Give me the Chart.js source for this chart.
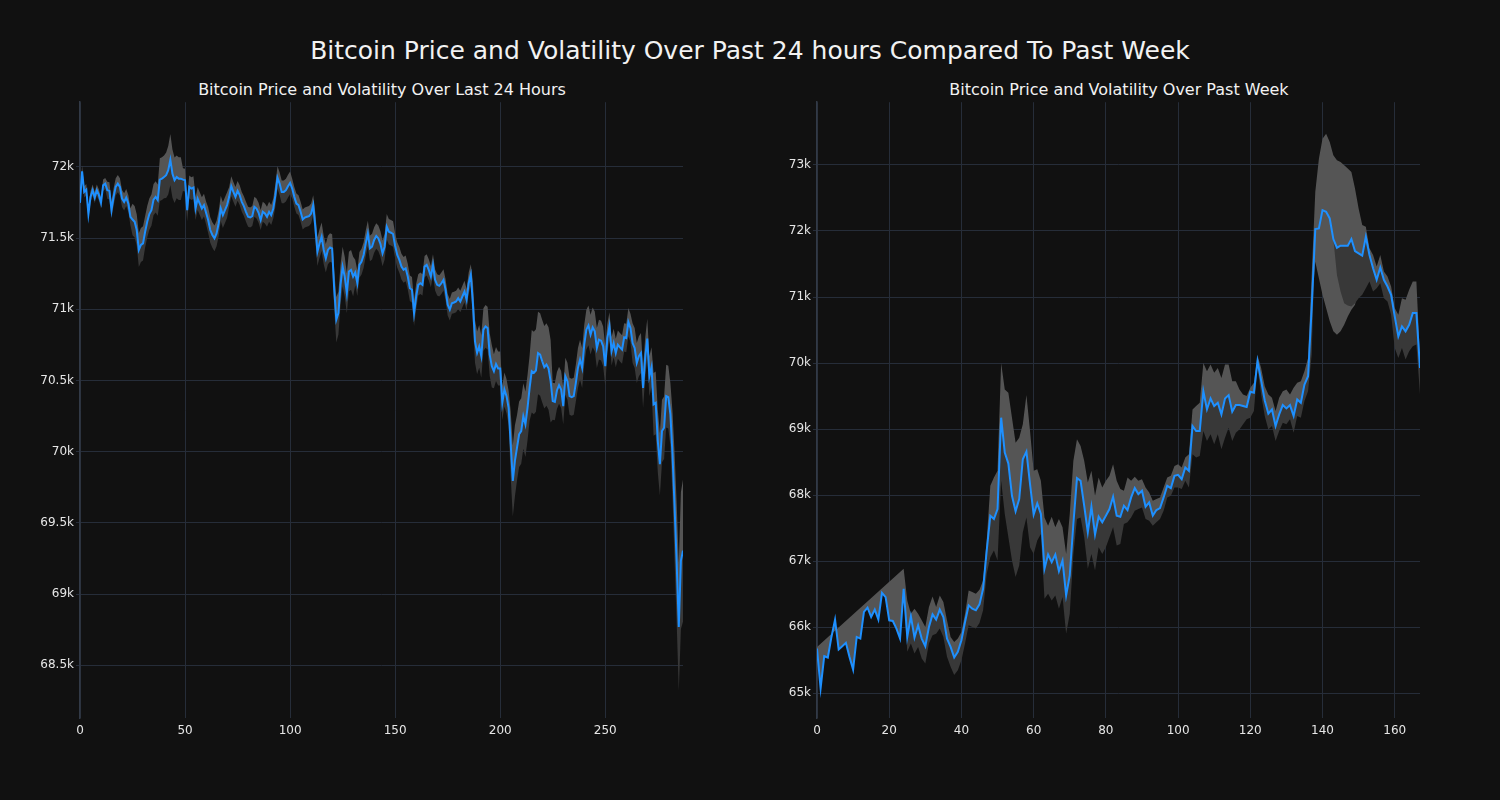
<!DOCTYPE html>
<html>
<head>
<meta charset="utf-8">
<script src="https://cdn.jsdelivr.net/npm/chart.js@4.4.1/dist/chart.umd.min.js"></script>
<style>
  html, body { margin:0; padding:0; background:#111111; }
  body { width:1500px; height:800px; position:relative; overflow:hidden; font-family:'DejaVu Sans', sans-serif; }
  .t { position:absolute; color:#f2f2f2; white-space:nowrap; transform:translate(-50%,-50%); }
  .box { position:absolute; }
</style>
</head>
<body>
<div class="t" style="left:750px;top:50px;font-size:25px;">Bitcoin Price and Volatility Over Past 24 hours Compared To Past Week</div>
<div class="t" style="left:382px;top:89px;font-size:16px;">Bitcoin Price and Volatility Over Last 24 Hours</div>
<div class="t" style="left:1119px;top:89px;font-size:16px;">Bitcoin Price and Volatility Over Past Week</div>
<div class="box" style="left:0px;top:93px;width:683px;height:657px;"><canvas id="c1"></canvas></div>
<div class="box" style="left:737px;top:93px;width:683px;height:657px;"><canvas id="c2"></canvas></div>
<script>
// ---- Last 24 hours (5-minute steps) ----
const price24 = [
71748,71970,71825,71841,71669,71790,71837,71785,71837,71802,71748,71872,71883,71837,71832,71697,71790,71860,71883,71860,
71778,71755,71785,71743,71650,71631,71615,71557,71417,71452,71463,71545,71615,71669,71697,71771,71790,71767,71911,71918,
71930,71942,71977,72051,71953,71907,71930,71918,71918,71911,71907,71697,71860,71848,71855,71708,71778,71743,71708,71732,
71678,71627,71557,71522,71498,71533,71603,71708,71662,71697,71732,71790,71865,71825,71790,71832,71802,71755,71725,71685,
71650,71645,71655,71720,71708,71678,71627,71685,71673,71650,71685,71662,71708,71802,71925,71883,71825,71825,71837,71865,
71888,71848,71790,71743,71732,71685,71631,71645,71650,71655,71673,71732,71580,71405,71463,71510,71417,71358,71417,71435,
71428,71137,70927,70973,71172,71300,71230,71113,71265,71277,71230,71258,71183,71312,71335,71382,71463,71533,71428,71440,
71487,71515,71498,71459,71393,71440,71580,71545,71538,71529,71445,71382,71347,71300,71277,71288,71230,71148,71137,70973,
71090,71172,71183,71172,71300,71312,71277,71230,71312,71207,71172,71165,71183,71207,71137,71032,70997,71043,71048,71055,
71078,71055,71090,71125,71067,71183,71242,71043,70775,70694,70740,70670,70857,70880,70868,70682,70600,70565,70616,70584,
70584,70343,70437,70390,70308,70052,69795,69935,70028,70122,70145,70250,70192,70308,70448,70565,70553,70570,70693,70682,
70635,70593,70612,70584,70495,70355,70350,70430,70467,70437,70320,70530,70495,70390,70383,70390,70483,70588,70647,70588,
70752,70857,70887,70822,70873,70845,70728,70787,70780,70740,70600,70798,70880,70705,70763,70693,70752,70733,70717,70803,
70798,70910,70868,70763,70728,70623,70670,70693,70448,70658,70794,70530,70593,70332,70343,70075,69912,70145,70168,70390,
70383,70262,69982,69609,69212,68769,69235,69305
];
const vol24 = [
40,40,40,40,40,40,40,40,40,40,40,40,40,60,60,60,60,60,60,60,
60,60,60,60,60,110,110,110,120,120,120,110,110,110,110,110,110,110,150,150,
150,160,170,180,170,160,150,150,150,80,80,80,80,80,80,80,80,80,80,80,
80,90,90,90,90,90,90,90,90,90,90,70,70,70,70,70,70,70,70,70,
70,70,70,70,70,70,70,70,70,70,70,70,70,80,80,80,80,80,80,80,
80,70,70,70,70,70,70,70,70,70,70,70,100,100,100,100,100,100,100,100,
100,140,160,150,140,140,140,140,140,140,140,90,90,90,90,90,90,90,90,90,
90,90,90,90,90,90,90,90,90,90,90,90,90,90,90,90,90,90,90,90,
90,75,75,75,75,75,75,75,75,75,75,75,75,75,75,75,75,75,75,75,
75,75,75,75,75,75,75,150,150,150,150,150,150,150,150,150,150,120,120,120,
120,120,120,120,120,230,250,250,230,230,230,230,230,230,230,290,290,290,290,290,
290,290,290,290,290,130,130,130,130,130,130,130,130,130,130,130,130,140,140,140,
140,140,140,140,140,140,140,140,140,140,140,100,100,100,100,100,100,100,100,100,
100,100,100,140,140,140,140,140,140,140,140,140,140,220,220,220,220,220,220,220,
220,220,300,380,420,450,480,500
];
const yTicks24 = [68500, 69000, 69500, 70000, 70500, 71000, 71500, 72000];
const xTicks24 = [0, 50, 100, 150, 200, 250];

// ---- Past week (hourly) ----
const priceWeek = [
65675,65071,65559,65539,65851,66113,65660,65710,65761,65549,65358,65851,65826,66229,66294,66153,66264,66113,66520,66455,
66103,66093,65977,65826,66581,65851,66163,65841,66027,65826,65710,66002,66193,66113,66264,66153,65826,65700,65539,65625,
65801,66078,66329,66279,66254,66344,66581,67159,67687,67637,67788,69172,68643,68477,67989,67753,67939,68543,68658,68165,
67703,67874,67713,66883,67099,66983,67099,66847,67008,66480,66782,67562,68256,68216,67838,67436,67823,67401,67672,67587,
67687,67788,67974,67687,67672,67838,67773,67964,68105,68014,68065,67823,67889,67688,67773,67803,67964,68140,68105,68291,
68306,68241,68417,68367,69046,68970,68970,69574,69297,69463,69348,69398,69222,69463,69514,69262,69363,69363,69348,69333,
69564,69549,70027,69735,69433,69232,69297,69046,69222,69363,69313,69363,69197,69448,69398,69675,69800,70832,72029,72039,
72316,72291,72190,71878,71747,71778,71778,71778,71878,71697,71662,71627,71913,71637,71436,71260,71446,71260,71159,71033,
70706,70404,70555,70480,70580,70756,70756,69926
];
const upperWeek = [
65700,null,null,null,null,null,null,null,null,null,null,null,null,null,null,null,null,null,null,null,
null,null,null,null,66882,66404,66203,66279,66203,66103,66002,66304,66465,66304,66480,66379,66103,65851,65776,65826,
65927,66203,66555,66530,66505,66565,66706,67310,68140,68266,68367,70000,69599,69549,69172,68794,68870,69071,69514,68970,
68367,68392,68216,67662,67537,67672,67511,67637,67511,67109,67713,68518,68845,68744,68518,68191,68367,67989,68266,68115,
68216,68291,68467,68216,68090,68065,68266,68216,68276,68216,68241,68115,68040,67914,67939,67964,68115,68266,68291,68442,
68467,68417,68568,68618,69297,69348,69398,70002,69876,69976,69851,69926,69775,69976,69976,69725,69725,69599,69524,69499,
69624,69700,70117,69926,69650,69524,69473,69272,69473,69574,69599,69524,69624,69700,69725,69876,70077,71335,72593,73096,
73398,73473,73347,73146,73071,73045,72995,72945,72894,72643,72341,72090,72065,71737,71637,71461,71637,71385,71310,71159,
70832,70731,70983,70958,71109,71234,71234,70077
];
// lower edge of the light band where it dips below the price (null = at the price)
const lightLowWeek = [
null,null,null,null,null,null,null,null,null,null,null,null,null,null,null,null,null,null,null,null,
null,null,null,null,null,null,null,null,null,null,null,null,null,null,null,null,null,null,null,null,
null,null,null,null,null,null,null,null,null,null,null,null,null,null,null,null,null,null,null,null,
null,null,null,null,null,null,null,null,null,null,null,null,null,null,null,null,null,null,null,null,
null,null,null,null,null,null,null,null,null,null,null,null,null,null,null,null,null,null,null,null,
null,null,null,null,null,null,null,null,null,null,null,null,null,null,null,null,null,null,null,null,
null,null,null,null,null,null,null,null,null,null,null,null,null,null,null,null,null,null,71536,71285,
71033,70832,70631,70480,70429,70480,70580,70706,70807,70882,71134,71586,null,null,null,null,null,null,null,null,
null,null,null,null,null,null,null,null
];
const lowerWeek = [
null,null,null,null,null,null,null,null,null,null,null,null,null,null,null,null,null,null,null,null,
null,null,null,null,66505,65625,65750,65600,65700,65524,65449,65750,65876,65901,65977,65851,65549,65398,65273,65348,
65499,65750,66027,66002,65977,66062,66254,66807,67058,67159,67008,68216,67713,67360,67008,66757,66933,67436,67662,67210,
67109,67310,67411,66430,66505,66404,66480,66279,66455,65901,66203,67109,67637,67662,67360,66883,67109,66857,67210,67109,
67210,67360,67511,67235,67260,67562,67587,67662,67763,67788,67813,67637,67612,67537,67587,67637,67763,67964,67989,68115,
68115,68090,68216,68115,68618,68568,68593,68970,68819,68920,68769,68920,68694,68870,69021,68819,68945,68995,69071,69147,
69172,69272,69926,69524,69197,68995,69046,68819,68970,69096,69071,69147,68945,69197,69172,69423,69574,70127,72029,72039,
72316,72291,72190,71878,71335,71083,70907,70872,70857,70907,70983,71033,71134,71234,71083,71134,71209,70983,70932,70731,
70228,70077,70228,70052,70178,70253,70279,69524
];
const yTicksWeek = [65000, 66000, 67000, 68000, 69000, 70000, 71000, 72000, 73000];
const xTicksWeek = [0, 20, 40, 60, 80, 100, 120, 140, 160];

// ---- styling ----
const LINE = '#1e90ff';
const BAND_UP = '#555555';
const BAND_DN = '#383838';
const GRID = '#262d39';
const TXT = '#e6e6e6';

Chart.defaults.font.family = "'DejaVu Sans', sans-serif";
Chart.defaults.font.size = 12;
Chart.defaults.color = TXT;

function kfmt(v) {
  const k = v / 1000;
  return (Number.isInteger(k) ? k.toString() : k.toFixed(1)) + 'k';
}

function makeChart(id, price, upper, lightLow, lower, yMin, yMax, xMax, yTicks, xTicks) {
  const labels = price.map((_, i) => i);
  new Chart(document.getElementById(id), {
    type: 'line',
    data: {
      labels: labels,
      datasets: [
        { data: price, borderColor: LINE, borderWidth: 2, pointRadius: 0, fill: false, order: 0, tension: 0 },
        { data: upper, borderWidth: 0, borderColor: 'rgba(0,0,0,0)', pointRadius: 0, spanGaps: true,
          backgroundColor: BAND_UP, fill: { target: 3, above: BAND_UP, below: BAND_UP }, order: 2 },
        { data: lower, borderWidth: 0, borderColor: 'rgba(0,0,0,0)', pointRadius: 0, spanGaps: true,
          backgroundColor: BAND_DN, fill: { target: 0, above: BAND_DN, below: BAND_DN }, order: 1 },
        { data: lightLow, borderWidth: 0, borderColor: 'rgba(0,0,0,0)', pointRadius: 0, fill: false, order: 3 }
      ]
    },
    options: {
      responsive: true, maintainAspectRatio: false, animation: false,
      layout: { padding: 0 },
      plugins: { legend: { display: false }, tooltip: { enabled: false }, title: { display: false } },
      scales: {
        x: {
          type: 'linear', min: 0, max: xMax,
          afterBuildTicks: s => { s.ticks = xTicks.map(v => ({ value: v })); },
          afterFit: s => { s.height = 32; },
          grid: { color: GRID, lineWidth: 1, drawTicks: false },
          border: { display: false },
          ticks: { padding: 6, color: TXT, maxRotation: 0, autoSkip: false, callback: v => v }
        },
        y: {
          type: 'linear', min: yMin, max: yMax,
          afterBuildTicks: s => { s.ticks = yTicks.map(v => ({ value: v })); },
          afterFit: s => { s.width = 80; },
          grid: { color: GRID, lineWidth: 1, drawTicks: true, tickLength: 4, tickColor: GRID },
          border: { display: true, color: '#323a47', width: 1.5 },
          ticks: { padding: 2, color: TXT, autoSkip: false, callback: v => kfmt(v) }
        }
      }
    }
  });
}

const upper24 = price24.map((p, i) => p + vol24[i]);
const lower24 = price24.map((p, i) => p - vol24[i]);
const lightLowWeekFull = priceWeek.map((p, i) => (lightLowWeek[i] === null ? p : lightLowWeek[i]));
makeChart('c1', price24, upper24, price24, lower24, 68129, 72455, 287, yTicks24, xTicks24);
makeChart('c2', priceWeek, upperWeek, lightLowWeekFull, lowerWeek, 64623, 73951, 167, yTicksWeek, xTicksWeek);
</script>
</body>
</html>
